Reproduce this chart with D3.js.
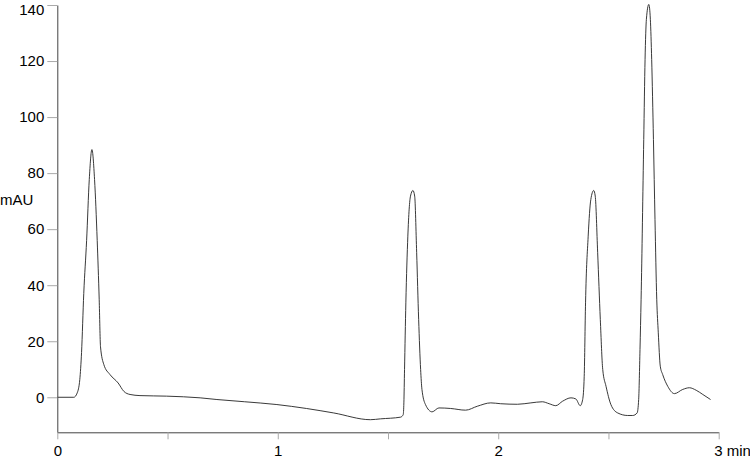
<!DOCTYPE html>
<html>
<head>
<meta charset="utf-8">
<script src="https://cdn.jsdelivr.net/npm/d3@7"></script>
<style>
  body { margin: 0; background: #fff; }
  text { font-family: "Liberation Sans", Arial, sans-serif; }
</style>
</head>
<body>
<svg id="wykres"></svg>
<script>
// czas retencji (min) i sygnal (mAU)
let czas = [0, 0.075, 0.09, 0.102, 0.11, 0.12, 0.133, 0.145, 0.157, 0.169, 0.181, 0.19, 0.196,
  0.211, 0.239, 0.276, 0.302, 0.33, 0.375, 0.496, 0.648, 0.724, 0.85, 0.996, 1.13, 1.254, 1.42,
  1.466, 1.557, 1.569, 1.572, 1.575, 1.581, 1.59, 1.602, 1.613, 1.621, 1.63, 1.639, 1.648,
  1.654, 1.67, 1.7, 1.731, 1.784, 1.852, 1.905, 1.966, 2.011, 2.087, 2.148, 2.2, 2.231, 2.261,
  2.292, 2.33, 2.352, 2.372, 2.383, 2.39, 2.396, 2.408, 2.42, 2.433, 2.44, 2.451, 2.463, 2.474,
  2.489, 2.511, 2.542, 2.587, 2.61, 2.63, 2.637, 2.643, 2.648, 2.66, 2.666, 2.672, 2.683, 2.69,
  2.696, 2.704, 2.711, 2.719, 2.726, 2.735, 2.746, 2.769, 2.799, 2.837, 2.867, 2.898, 2.928, 2.963];
let sygnal = [0, 0, 1.5, 6.3, 16, 37, 56, 77.7, 88.4, 77.7, 56, 35, 18,
  11.7, 8.1, 5.1, 2.1, 1, 0.6, 0.4, -0.2, -0.8, -1.6, -2.6, -4, -5.6, -8,
  -7.7, -7.1, -6.2, -2, 9.9, 33.7, 57.5, 71.8, 73.8, 71.8, 51.6, 27.8, 9.9,
  2.8, -2.6, -5.2, -3.8, -4, -4.6, -3.2, -2, -2.3, -2.5, -2, -1.6, -2.3, -3,
  -1.4, -0.2, -0.6, -3, -0.8, 7.5, 33.7, 57.5, 70.6, 73.8, 71.8, 51.6, 27.8, 9.9,
  3.9, -2.6, -5.6, -6.5, -6.5, -5.6, -0.8, 17, 35, 92, 120.6, 134.9, 140.2, 134.9,
  120.6, 92, 63.5, 35, 23, 11.1, 8.1, 3.9, 1.3, 2.8, 3.4, 2.5, 1, -0.8];

let yTicks = [0, 20, 40, 60, 80, 100, 120, 140];
let xTicks = [0, 0.5, 1, 1.5, 2, 2.5, 3];
let xLabels = {0: '0', 1: '1', 2: '2', 3: '3 min'};

let macierz = czas.map(function(t, i) { return [t, sygnal[i]]; });

let svg = d3.select('#wykres').attr('width', 750).attr('height', 458);

let x = d3.scaleLinear()
  .domain([0, 3])
  .range([57.3, 718.7]);

let y = d3.scaleLinear()
  .domain([-12.5, 140])
  .range([432.3, 5]);

let line = d3.line()
  .x(function(d) { return x(d[0]); })
  .y(function(d) { return y(d[1]); })
  .curve(d3.curveMonotoneX);

svg.append('path')
  .datum(macierz)
  .attr('d', line)
  .attr('fill', 'none')
  .attr('stroke', '#222')
  .attr('stroke-width', 0.9);

let yAxis = d3.axisLeft(y).tickValues(yTicks).tickSize(10).tickSizeOuter(0).tickPadding(3);
let xAxis = d3.axisBottom(x).tickValues(xTicks).tickSize(7).tickSizeOuter(0).tickPadding(6)
  .tickFormat(function(d) { return xLabels[d] || ''; });

let gy = svg.append('g').attr('transform', 'translate(57.3,0)').call(yAxis);
let gx = svg.append('g').attr('transform', 'translate(0,432.3)').call(xAxis);

// styl osi
[gy, gx].forEach(function(g) {
  g.select('.domain').attr('stroke', '#444');
  g.selectAll('.tick line').attr('stroke', '#aaa');
  g.selectAll('.tick text').attr('fill', '#000').style('font-size', '15px');
});

// najwyzsza etykieta w dol, zeby nie wychodzila poza gorna krawedz
gy.selectAll('.tick text')
  .filter(function(d) { return d === 140; })
  .attr('dy', '0.6em');

gx.selectAll('.tick text')
  .filter(function(d) { return d === 3; })
  .attr('text-anchor', 'start')
  .attr('dx', '-5');

svg.append('text')
  .attr('x', 0)
  .attr('y', 205)
  .style('font-size', '15px')
  .text('mAU');
</script>
</body>
</html>
